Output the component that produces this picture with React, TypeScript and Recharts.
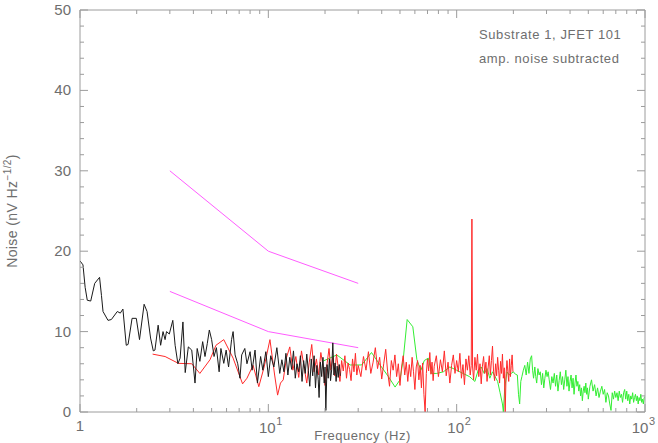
import React from "react";
import { LineChart, Line, XAxis, YAxis } from "recharts";

// ---------- tick values ----------
const xTicks = [1, 2, 3, 4, 5, 6, 7, 8, 9, 10, 20, 30, 40, 50, 60, 70, 80, 90, 100, 200, 300, 400, 500, 600, 700, 800, 900, 1000];
const xMajor = [1, 10, 100, 1000];
const xExp: Record<number, string> = { 10: "1", 100: "2", 1000: "3" };
const yTicks = [0, 2, 4, 6, 8, 10, 12, 14, 16, 18, 20, 22, 24, 26, 28, 30, 32, 34, 36, 38, 40, 42, 44, 46, 48, 50];

// ---------- magenta reference lines ----------
const magFreq = [3, 10, 30];
const magUpper = [30, 20, 16];
const magLower = [15, 10, 8];

// ---------- black series ----------
const blackFreq = [
  1.0, 1.037, 1.065, 1.093, 1.14, 1.197, 1.27, 1.3, 1.325, 1.408, 1.467, 1.578, 1.637, 1.69, 1.76, 1.8, 1.89, 1.99,
  2.07, 2.19, 2.27, 2.37, 2.45, 2.5, 2.6, 2.68, 2.76, 2.83, 2.88, 2.98, 3.11, 3.2, 3.31, 3.4, 3.52, 3.62, 3.76, 3.92,
  4.08, 4.19, 4.33, 4.48, 4.61, 4.74, 4.86, 5.0, 5.15, 5.3, 5.48, 5.6, 5.8, 5.97, 6.15, 6.38, 6.5, 6.66, 6.88, 7.07,
  7.22, 7.5, 7.7, 8.0, 8.2, 8.5, 8.75, 9.1, 9.35, 9.7, 10.0, 10.3, 10.7, 11.1, 11.5, 11.8, 12.1, 12.4, 12.7, 13.0,
  13.3, 13.6, 13.9, 14.2, 14.5, 14.8, 15.1, 15.4, 15.7, 16.0, 16.3, 16.6, 16.9, 17.2, 17.5, 17.8, 18.1, 18.4, 18.6,
  18.9, 19.2, 19.5, 19.8, 20.0, 20.2, 20.5, 20.8, 21.1, 21.4, 21.7, 22.0, 22.3, 22.6, 22.9, 23.2, 23.5, 23.8, 24.1,
];
const blackVal = [
  18.8, 18.3, 15.5, 13.9, 13.8, 16.0, 16.75, 14.5, 12.5, 11.4, 11.5, 12.5, 12.3, 12.8, 8.3, 8.4, 11.65, 11.65,
  9.0, 13.4, 12.5, 9.2, 7.6, 7.7, 10.8, 8.3, 10.0, 9.0, 10.0, 9.7, 11.4, 8.3, 6.0, 6.7, 11.2, 4.9, 8.1, 7.7,
  3.6, 7.9, 6.3, 8.75, 6.9, 8.5, 10.2, 9.0, 6.9, 8.0, 5.0, 7.9, 6.05, 7.7, 5.6, 9.0, 10.0, 7.1, 6.0, 4.2,
  7.1, 7.9, 6.0, 7.5, 5.2, 7.7, 3.6, 6.9, 5.2, 7.5, 4.4, 7.0, 5.6, 8.0, 4.8, 6.5, 5.0, 7.3, 4.6, 6.8,
  5.3, 7.6, 4.2, 6.0, 5.0, 7.0, 3.8, 6.4, 4.8, 7.2, 5.2, 3.2, 6.6, 4.5, 7.0, 3.0, 5.8, 4.0, 1.8,
  6.2, 4.4, 6.8, 3.6, 5.6, 0.2, 5.9, 4.2, 6.6, 3.9, 5.3, 8.6, 4.6, 6.1, 3.8, 5.7, 4.3, 5.9, 4.5,
];

// ---------- red series ----------
const redFreq = [
  2.43, 2.83, 3.33, 3.92, 4.33, 4.9, 5.27, 5.8, 6.5, 7.3, 7.7, 8.3, 8.9, 9.5, 10.2, 10.8, 11.2, 11.6, 12.0,
  12.5, 13.0, 13.5, 14.0, 14.5, 15.0, 15.5, 16.0, 16.5, 17.0, 17.5, 18.0, 18.5, 19.0, 19.5, 20.0, 20.5, 21.0, 21.5,
  22.0, 22.5, 23.0, 23.5, 24.0, 24.5, 25.0, 25.5, 26.0, 26.5, 27.0, 27.5, 28.0, 28.5, 29.0, 29.5, 30, 31, 32, 33, 34,
  35, 36, 37, 38, 39, 40, 41, 42, 43, 44, 45, 46, 47, 48, 49, 50, 51, 52, 53, 54, 55, 56, 57, 58, 59, 60, 61, 62,
  63, 64, 65, 66, 67, 68, 69, 70, 71, 72, 73, 74, 75, 76, 78, 80, 82, 84, 86, 88, 90, 92, 94, 96, 98, 100, 102,
  104, 106, 108, 110, 112, 114, 116, 118, 119.5, 120.5, 121.5, 123, 125, 127, 129, 131, 133, 135, 137, 139, 141,
  143, 145, 147, 149, 151, 153, 155, 157, 159, 161, 163, 165, 167, 169, 171, 173, 175, 177, 179, 181, 183, 185,
  187, 189, 191, 193, 195, 197, 199,
];
const redVal = [
  7.2, 6.9, 6.05, 6.0, 4.8, 6.5, 8.3, 9.0, 6.7, 3.5, 4.2, 5.8, 3.15, 5.6, 9.0, 4.6, 2.1, 3.6, 4.0,
  6.8, 8.1, 5.2, 6.9, 4.3, 7.6, 5.5, 3.6, 6.2, 8.4, 5.0, 6.6, 4.6, 7.4, 5.8, 3.3, 6.0, 7.9, 5.2,
  6.8, 4.5, 7.2, 5.6, 3.8, 6.4, 5.1, 7.0, 4.2, 6.1, 5.3, 3.9, 6.6, 5.0, 7.3, 4.6, 5.8, 4.4, 6.9, 5.2, 7.5,
  4.8, 6.2, 8.0, 5.4, 6.8, 4.1, 6.0, 7.8, 5.0, 3.2, 6.4, 5.2, 7.1, 4.4, 6.0, 3.3, 5.6, 7.0, 4.6, 6.2, 3.8, 5.9, 4.4, 6.8, 5.0, 2.8, 5.6, 6.4,
  4.0, 5.8, 3.0, 6.1, 2.2, 0.0, 4.8, 6.6, 5.1, 7.4, 4.7, 6.2, 3.9, 5.7, 7.0, 4.4, 6.5, 5.0, 7.6, 4.5, 6.2, 3.6, 5.8, 7.1, 4.8, 6.4, 5.0,
  7.3, 4.2, 5.9, 3.4, 6.6, 5.2, 7.0, 4.6, 5.8, 24.0, 5.6, 4.0, 6.8, 5.2, 7.2, 4.4, 6.0, 3.5, 5.7, 6.9, 4.8,
  6.2, 3.8, 5.6, 7.0, 4.6, 6.4, 8.2, 5.0, 3.9, 6.0, 4.5, 6.8, 5.2, 3.6, 6.3, 4.8, 7.2, 4.2, 5.5, 0.0, 4.8, 6.4,
  5.0, 3.8, 6.6, 4.4, 5.8, 7.1, 5.0,
];

// ---------- green series ----------
const greenFreq = [
  19.6, 23.1, 27.2, 31.3, 35.3, 39.2, 43.4, 47.1, 50, 52, 54.6, 58.5, 61.5, 64.6, 67.3, 70.7, 73.5, 78.5, 85, 92,
  100, 108, 117, 125, 130, 135, 140, 145, 150, 155, 160, 165, 170, 175, 177, 180, 185, 190, 195, 200, 205, 210, 213,
  216, 219, 222, 226, 230, 234, 238, 242, 246, 250, 253, 256, 260, 263, 266, 270, 274, 278, 282, 286, 290, 294, 298,
  302, 306, 310, 315, 320, 325, 330, 335, 340, 345, 350, 355, 360, 365, 370, 375, 380, 385, 390, 395, 400, 405, 410,
  415, 420, 425, 430, 435, 440, 445, 450, 455, 460, 465, 470, 475, 480, 485, 490, 495, 500, 510, 520, 530, 540, 550,
  560, 570, 580, 590, 600, 610, 620, 630, 640, 650, 660, 670, 680, 690, 700, 710, 720, 730, 740, 750, 760, 770, 780,
  790, 800, 810, 820, 830, 840, 850, 860, 870, 880, 890, 900, 910, 920, 930, 940, 950, 960, 970, 980, 990, 1000,
];
const greenVal = [
  6.35, 7.1, 5.85, 5.85, 7.4, 5.85, 4.4, 3.1, 4.0, 6.5, 11.5, 10.6, 6.5, 5.2, 6.4, 6.7, 4.8, 4.8, 5.0, 5.6,
  5.2, 4.8, 4.4, 3.8, 5.2, 5.6, 4.8, 5.4, 4.2, 5.0, 4.4, 3.8, 2.4, 1.0, 0.0, 3.0, 5.0, 4.6, 4.8, 5.0, 4.7, 4.6, 2.2,
  1.0, 3.8, 4.4, 5.2, 5.8, 4.6, 6.2, 4.8, 6.6, 7.0, 5.2, 4.2, 5.6, 4.4, 3.6, 5.4, 4.6, 5.0, 3.4, 4.8, 3.0, 4.2, 5.2,
  4.4, 5.0, 4.0, 2.8, 4.4, 3.6, 4.8, 3.2, 4.6, 2.6, 3.9, 5.0, 3.4, 4.4, 2.8, 4.0, 5.2, 3.2, 4.4, 2.6, 3.8, 4.6, 3.0,
  4.2, 2.2, 3.6, 4.6, 3.2, 3.8, 2.6, 3.4, 2.0, 3.0, 1.4, 2.6, 3.2, 2.4, 3.6, 2.2, 3.0, 1.6, 3.2, 4.0, 2.6, 3.4, 2.0,
  3.0, 1.8, 2.6, 3.2, 2.2, 2.8, 1.2, 2.4, 2.0, 1.0, 0.2, 2.4, 1.6, 2.6, 1.8, 2.4, 1.4, 2.6, 1.8, 2.2, 1.2, 2.4, 2.8,
  1.6, 2.6, 1.4, 2.2, 1.0, 2.0, 1.6, 2.4, 1.2, 1.8, 2.2, 1.4, 2.0, 1.0, 1.8, 1.4, 2.2, 1.2, 1.6, 1.0, 1.8, 1.9,
];

const toRows = (fs: number[], vs: number[]) => fs.map((f, i) => ({ f, v: vs[i] }));
const blackData = toRows(blackFreq, blackVal);
const redData = toRows(redFreq, redVal);
const greenData = toRows(greenFreq, greenVal);
const magUpperData = toRows(magFreq, magUpper);
const magLowerData = toRows(magFreq, magLower);

const AXIS = "#9c9c9c";
const TEXT = "#6e6e6e";
const FONT = "'Liberation Sans', Arial, sans-serif";

const XTickBottom = (props: any) => {
  const { x, y, payload } = props;
  const v = payload.value;
  const major = xMajor.includes(v);
  const len = major ? 8 : 4;
  const shift = v === 1000 ? -4 : 0;
  return (
    <g>
      <line x1={x} y1={y} x2={x} y2={y - len} stroke={AXIS} strokeWidth={1} />
      {major && v === 1 && (
        <text x={x} y={y + 19} textAnchor="middle" fill={TEXT} fontSize={15} fontFamily={FONT}>1</text>
      )}
      {major && v !== 1 && (
        <g>
          <text x={x - 1 + shift} y={y + 21} textAnchor="middle" fill={TEXT} fontSize={15} fontFamily={FONT}>10</text>
          <text x={x + 8 + shift} y={y + 13} textAnchor="start" fill={TEXT} fontSize={11} fontFamily={FONT}>{xExp[v]}</text>
        </g>
      )}
    </g>
  );
};

const XTickTop = (props: any) => {
  const { x, y, payload } = props;
  const major = xMajor.includes(payload.value);
  return <line x1={x} y1={y} x2={x} y2={y + (major ? 8 : 4)} stroke={AXIS} strokeWidth={1} />;
};

const YTickLeft = (props: any) => {
  const { x, y, payload } = props;
  const v = payload.value;
  const major = v % 10 === 0;
  return (
    <g>
      <line x1={x} y1={y} x2={x + (major ? 8 : 4)} y2={y} stroke={AXIS} strokeWidth={1} />
      {major && (
        <text x={x - 9} y={y + 5} textAnchor="end" fill={TEXT} fontSize={15} fontFamily={FONT}>{v}</text>
      )}
    </g>
  );
};

const YTickRight = (props: any) => {
  const { x, y, payload } = props;
  const major = payload.value % 10 === 0;
  return <line x1={x} y1={y} x2={x - (major ? 8 : 4)} y2={y} stroke={AXIS} strokeWidth={1} />;
};

export default function App() {
  return (
    <div style={{ position: "absolute", left: 0, top: 0, width: 658, height: 443, background: "#fff", overflow: "hidden" }}>
      <LineChart width={658} height={443} margin={{ top: 0, right: 0, bottom: 0, left: 0 }}>
        <XAxis
          xAxisId="b" type="number" dataKey="f" scale="log" domain={[1, 1000]} allowDataOverflow
          ticks={xTicks} interval={0} tickSize={0} tickMargin={0} tickLine={false}
          axisLine={{ stroke: AXIS }} height={31} tick={<XTickBottom />}
        />
        <XAxis
          xAxisId="t" orientation="top" type="number" dataKey="f" scale="log" domain={[1, 1000]} allowDataOverflow
          ticks={xTicks} interval={0} tickSize={0} tickMargin={0} tickLine={false}
          axisLine={{ stroke: AXIS }} height={10} tick={<XTickTop />}
        />
        <YAxis
          yAxisId="l" type="number" domain={[0, 50]} ticks={yTicks} interval={0} tickSize={0} tickMargin={0}
          tickLine={false} axisLine={{ stroke: AXIS }} width={80} tick={<YTickLeft />} allowDataOverflow
        />
        <YAxis
          yAxisId="r" orientation="right" type="number" domain={[0, 50]} ticks={yTicks} interval={0} tickSize={0}
          tickMargin={0} tickLine={false} axisLine={{ stroke: AXIS }} width={13} tick={<YTickRight />} allowDataOverflow
        />
        <Line xAxisId="b" yAxisId="l" data={magUpperData} dataKey="v" stroke="#ff5cff" strokeWidth={1} dot={false} isAnimationActive={false} />
        <Line xAxisId="b" yAxisId="l" data={magLowerData} dataKey="v" stroke="#ff5cff" strokeWidth={1} dot={false} isAnimationActive={false} />
        <Line xAxisId="b" yAxisId="l" data={greenData} dataKey="v" stroke="#33ee33" strokeWidth={1} dot={false} isAnimationActive={false} />
        <Line xAxisId="b" yAxisId="l" data={redData} dataKey="v" stroke="#ff2a2a" strokeWidth={1} dot={false} isAnimationActive={false} />
        <Line xAxisId="b" yAxisId="l" data={blackData} dataKey="v" stroke="#1a1a1a" strokeWidth={1} dot={false} isAnimationActive={false} />
      </LineChart>
      <svg width={658} height={443} style={{ position: "absolute", left: 0, top: 0, pointerEvents: "none" }}>
        <text x={479} y={38.5} fill={TEXT} fontSize={13} letterSpacing={0.6} fontFamily={FONT}>Substrate 1, JFET 101</text>
        <text x={479} y={63} fill={TEXT} fontSize={13} letterSpacing={0.6} fontFamily={FONT}>amp. noise subtracted</text>
        <text x={362.5} y={440} textAnchor="middle" fill={TEXT} fontSize={13} letterSpacing={0.5} fontFamily={FONT}>Frequency (Hz)</text>
        <text transform="translate(17,211) rotate(-90)" textAnchor="middle" fill={TEXT} fontSize={14} letterSpacing={0.4} fontFamily={FONT}>
          Noise (nV Hz<tspan dy={-6} fontSize={10}>−1/2</tspan><tspan dy={6}>)</tspan>
        </text>
      </svg>
    </div>
  );
}
